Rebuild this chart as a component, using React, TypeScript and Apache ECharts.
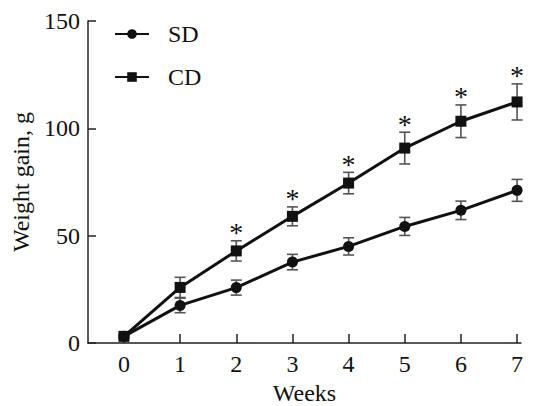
import React, { useEffect, useRef } from "react";
import * as echarts from "echarts";

const weeks = [0, 1, 2, 3, 4, 5, 6, 7];
const sdMean = [3.1, 17.5, 25.8, 37.7, 45.0, 54.3, 61.8, 71.1];
const sdErr = [0.8, 3.4, 3.5, 3.6, 4.0, 4.2, 4.3, 5.1];
const cdMean = [3.1, 25.9, 42.9, 59.0, 74.5, 90.8, 103.3, 112.3];
const cdErr = [0.8, 4.7, 4.7, 4.4, 5.0, 7.4, 7.6, 8.4];
const significant = [false, false, true, true, true, true, true, true];
const yTicks = [0, 50, 100, 150];

const FONT = "Liberation Serif";

function errorSeries(mean: number[], err: number[]) {
  const data = weeks.map((w, i) => [w, mean[i] - err[i], mean[i] + err[i]]);
  return {
    type: "custom",
    silent: true,
    z: 1,
    renderItem: (params: any, api: any) => {
      const x = api.value(0);
      const lo = api.coord([x, api.value(1)]);
      const hi = api.coord([x, api.value(2)]);
      const cap = 5.5;
      const style = { stroke: "#555", lineWidth: 1.6 };
      return {
        type: "group",
        children: [
          { type: "line", shape: { x1: lo[0], y1: lo[1], x2: hi[0], y2: hi[1] }, style },
          { type: "line", shape: { x1: lo[0] - cap, y1: lo[1], x2: lo[0] + cap, y2: lo[1] }, style },
          { type: "line", shape: { x1: hi[0] - cap, y1: hi[1], x2: hi[0] + cap, y2: hi[1] }, style },
        ],
      };
    },
    data,
  };
}

export default function App() {
  const ref = useRef<HTMLDivElement>(null);
  useEffect(() => {
    if (!ref.current) return;
    const chart = echarts.init(ref.current, undefined, { renderer: "svg" });
    const starData = weeks
      .map((w, i) => (significant[i] ? [w, cdMean[i] + cdErr[i]] : null))
      .filter((d) => d !== null);
    chart.setOption({
      animation: false,
      backgroundColor: "#fff",
      textStyle: { fontFamily: FONT },
      grid: { left: 88, top: 21, right: 21, bottom: 63, containLabel: false, outerBoundsMode: "none" },
      legend: {
        left: 109,
        top: 17,
        orient: "vertical",
        itemWidth: 34,
        itemHeight: 12,
        itemGap: 19,
        textStyle: { fontFamily: FONT, fontSize: 24, color: "#111", padding: [0, 0, 0, 14] },
        data: ["SD", "CD"],
      },
      xAxis: {
        type: "value",
        min: -0.64,
        max: 7.07,
        name: "Weeks",
        nameLocation: "middle",
        nameGap: 38,
        nameTextStyle: { fontFamily: FONT, fontSize: 24, color: "#111" },
        axisLine: { show: true, onZero: false, lineStyle: { color: "#222", width: 1.5 } },
        axisTick: { show: true, inside: true, length: 9, customValues: weeks, lineStyle: { color: "#222", width: 1.5 } },
        axisLabel: { customValues: weeks, margin: 9, fontFamily: FONT, fontSize: 24, color: "#111" },
        splitLine: { show: false },
      },
      yAxis: {
        type: "value",
        min: 0,
        max: 150,
        interval: 50,
        name: "Weight gain, g",
        nameLocation: "middle",
        nameGap: 54,
        nameTextStyle: { fontFamily: FONT, fontSize: 24, color: "#111" },
        axisLine: { show: true, onZero: false, lineStyle: { color: "#222", width: 1.5 } },
        axisTick: { show: true, inside: true, length: 8, customValues: yTicks, lineStyle: { color: "#222", width: 1.5 } },
        axisLabel: { customValues: yTicks, margin: 8, fontFamily: FONT, fontSize: 24, color: "#111" },
        splitLine: { show: false },
      },
      series: [
        errorSeries(sdMean, sdErr),
        errorSeries(cdMean, cdErr),
        {
          name: "SD",
          type: "line",
          z: 3,
          data: weeks.map((w, i) => [w, sdMean[i]]),
          symbol: "circle",
          symbolSize: 11,
          lineStyle: { color: "#111", width: 3 },
          itemStyle: { color: "#111" },
        },
        {
          name: "CD",
          type: "line",
          z: 4,
          data: weeks.map((w, i) => [w, cdMean[i]]),
          symbol: "rect",
          symbolSize: 11,
          lineStyle: { color: "#111", width: 3 },
          itemStyle: { color: "#111" },
        },
        {
          type: "custom",
          silent: true,
          z: 5,
          data: starData,
          renderItem: (params: any, api: any) => {
            const p = api.coord([api.value(0), api.value(1)]);
            return {
              type: "text",
              x: p[0],
              y: p[1] + 6,
              style: {
                text: "*",
                fontFamily: FONT,
                fontSize: 28,
                fill: "#111",
                align: "center",
                verticalAlign: "bottom",
              },
            };
          },
        },
      ],
    });
    return () => chart.dispose();
  }, []);
  return <div ref={ref} style={{ width: 542, height: 406, position: "absolute", left: 0, top: 0 }} />;
}
